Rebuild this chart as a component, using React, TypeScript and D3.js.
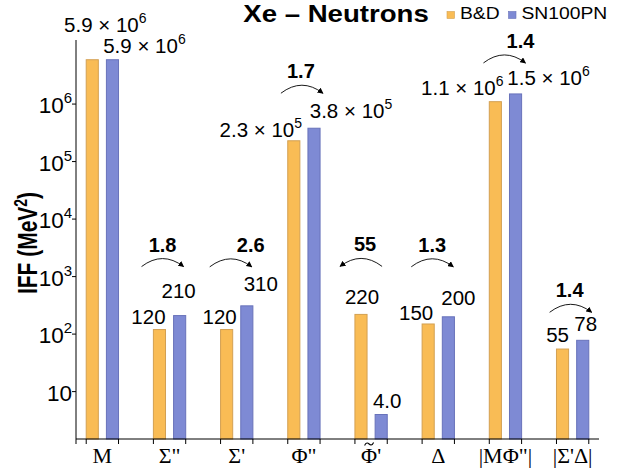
import React from "react";
import * as d3 from "d3";

const categories = ["M", "Σ\"", "Σ'", "Φ\"", "Φ\u0303'", "Δ", "|MΦ\"|", "|Σ'Δ|"];
const seriesNames = ["B&D", "SN100PN"];
const bdValues = [5.9e6, 120, 120, 2.3e5, 220, 150, 1.1e6, 55];
const snValues = [5.9e6, 210, 310, 3.8e5, 4.0, 200, 1.5e6, 78];
const yTicks = [10, 1e2, 1e3, 1e4, 1e5, 1e6];

// hand placed value labels: [dx from bar centre, dy from bar top]
const bdNudge = [[13, -28], [-11, -6], [-7, -6], [-33, -4], [1, -10], [-12, -4], [-33, -7], [-5, -7]];
const snNudge = [[32, -7], [-1, -18], [14, -15], [37, -10], [6, -7], [10, -12], [33, -9], [3, -9]];
// ratio annotation: [text dx, arc dx, baseline dy above taller bar]
const ratioNudge = [null, [-7, -7, -64], [14, -6, -54], [-3, -2, -50], [-6, -10, -63], [-6, -6, -65], [15, -1, -46], [-3, -2, -43]];

const colors = ["#F9BC55", "#7E8AD4"];
const strokes = ["#D3A052", "#6872BA"];

const W = 623;
const H = 473;
const left = 76;
const right = 599;
const top = 40;
const bottom = 439;

const sans = "'Liberation Sans', Arial, sans-serif";
const serif = "'Liberation Serif', 'Times New Roman', serif";

const fmt = d3.format(".2r");

function ValueLabel({ v, x, y }: { v: number; x: number; y: number }) {
  if (v >= 1e5) {
    const e = Math.floor(Math.log10(v));
    const m = fmt(v / Math.pow(10, e));
    return (
      <text x={x} y={y} textAnchor="middle" fontFamily={sans} fontSize={20.5}>
        {m} × 10
        <tspan fontSize={14} dy={-9}>{e}</tspan>
      </text>
    );
  }
  return (
    <text x={x} y={y} textAnchor="middle" fontFamily={sans} fontSize={20.5}>
      {fmt(v)}
    </text>
  );
}

function CategoryLabel({ c, x }: { c: string; x: number }) {
  // combining tilde renders badly, so draw it as a small stroke over the Φ
  if (c.includes("\u0303")) {
    const plain = c.replace("\u0303", "");
    const tx = x - 2;
    return (
      <g>
        <text x={x} y={463} textAnchor="middle" fontFamily={serif} fontSize={22}>{plain}</text>
        <path d={`M${tx - 4.5},${445.5} C${tx - 3},${442} ${tx - 1},${443} ${tx},${444} S${tx + 3},${446} ${tx + 4.5},${442.5}`} fill="none" stroke="#000" strokeWidth={1.1} />
      </g>
    );
  }
  return (
    <text x={x} y={463} textAnchor="middle" fontFamily={serif} fontSize={22}>{c}</text>
  );
}

export default function App() {
  const y = d3.scaleLog().domain([1.5, 1.3e7]).range([bottom, top]);
  const x = d3.scaleBand<string>().domain(categories).range([left, right]).paddingInner(0.519).paddingOuter(0.152);
  const xs = d3.scaleBand<string>().domain(seriesNames).range([0, x.bandwidth()]).paddingInner(0.4);
  const bw = xs.bandwidth();

  return (
    <svg width={W} height={H} style={{ position: "absolute", left: 0, top: 0, background: "#fff" }}>
      <defs>
        <marker id="arr" viewBox="0 0 8 8" refX="7" refY="4" markerWidth="6" markerHeight="6" markerUnits="userSpaceOnUse" orient="auto">
          <path d="M0,0 L8,4 L0,8 z" fill="#000" />
        </marker>
      </defs>

      {/* title */}
      <g transform="translate(336,21.7) scale(1.2,1)">
        <text textAnchor="middle" fontFamily={sans} fontWeight="bold" fontSize={23}>
          Xe – Neutrons
        </text>
      </g>

      {/* legend */}
      {seriesNames.map((s, i) => {
        const lx = i === 0 ? 447 : 508.5;
        return (
          <g key={s}>
            <rect x={lx} y={11.5} width={7.5} height={7} fill={colors[i]} stroke={strokes[i]} strokeWidth={0.6} />
            <g transform={`translate(${lx + 13},18.5) scale(1.17,1)`}>
              <text fontFamily={sans} fontSize={16.5}>{s}</text>
            </g>
          </g>
        );
      })}

      {/* bars */}
      {categories.map((c, i) => {
        const vals = [bdValues[i], snValues[i]];
        return vals.map((v, j) => {
          const bx = x(c)! + xs(seriesNames[j])!;
          return (
            <rect key={c + j} x={bx} y={y(v)} width={bw} height={bottom - y(v)} fill={colors[j]} stroke={strokes[j]} strokeWidth={1} />
          );
        });
      })}

      {/* value labels */}
      {categories.map((c, i) => {
        const vals = [bdValues[i], snValues[i]];
        const nudges = [bdNudge[i], snNudge[i]];
        return vals.map((v, j) => {
          const cx = x(c)! + xs(seriesNames[j])! + bw / 2;
          return <ValueLabel key={"l" + c + j} v={v} x={cx + nudges[j][0]} y={y(v) + nudges[j][1]} />;
        });
      })}

      {/* ratio annotations */}
      {categories.map((c, i) => {
        const n = ratioNudge[i];
        if (!n) return null;
        const a = bdValues[i];
        const b = snValues[i];
        const ratio = Math.max(a, b) / Math.min(a, b);
        const dir = b >= a ? 1 : -1;
        const gc = x(c)! + x.bandwidth() / 2;
        const base = y(Math.max(a, b)) + n[2];
        const ac = gc + n[1];
        const x0 = ac - 21 * dir;
        const x1 = ac + 21 * dir;
        return (
          <g key={"r" + c}>
            <text x={gc + n[0]} y={base} textAnchor="middle" fontFamily={sans} fontWeight="bold" fontSize={20}>
              {fmt(ratio)}
            </text>
            <path d={`M${x0},${base + 15} Q${ac},${base - 1} ${x1},${base + 15}`} fill="none" stroke="#000" strokeWidth={0.9} markerEnd="url(#arr)" />
          </g>
        );
      })}

      {/* y axis */}
      <line x1={left} x2={left} y1={top} y2={bottom} stroke="#000" strokeWidth={1} />
      {yTicks.map((t) => {
        const e = Math.round(Math.log10(t));
        return (
          <g key={"yt" + t}>
            <line x1={left - 4} x2={left} y1={y(t)} y2={y(t)} stroke="#000" strokeWidth={1} />
            <text x={72} y={y(t) + 9} textAnchor="end" fontFamily={sans} fontSize={22.5}>
              10
              {e > 1 && <tspan fontSize={15} dy={-10}>{e}</tspan>}
            </text>
          </g>
        );
      })}
      <g transform="translate(37,243) scale(1.3,1) rotate(-90)">
        <text textAnchor="middle" fontFamily={sans} fontWeight="bold" fontSize={21}>
          IFF (MeV<tspan fontSize={14} dy={-8}>2</tspan>
          <tspan dy={8}>)</tspan>
        </text>
      </g>

      {/* x axis */}
      <line x1={left} x2={right} y1={bottom} y2={bottom} stroke="#000" strokeWidth={1} />
      <line x1={left} x2={left} y1={bottom} y2={bottom + 5} stroke="#000" strokeWidth={1} />
      {categories.map((c) => (
        <g key={"xt" + c}>
          <line x1={x(c)!} x2={x(c)!} y1={bottom} y2={bottom + 5} stroke="#000" strokeWidth={1} />
          <line x1={x(c)! + x.bandwidth()} x2={x(c)! + x.bandwidth()} y1={bottom} y2={bottom + 5} stroke="#000" strokeWidth={1} />
          <CategoryLabel c={c} x={x(c)! + x.bandwidth() / 2} />
        </g>
      ))}
    </svg>
  );
}
